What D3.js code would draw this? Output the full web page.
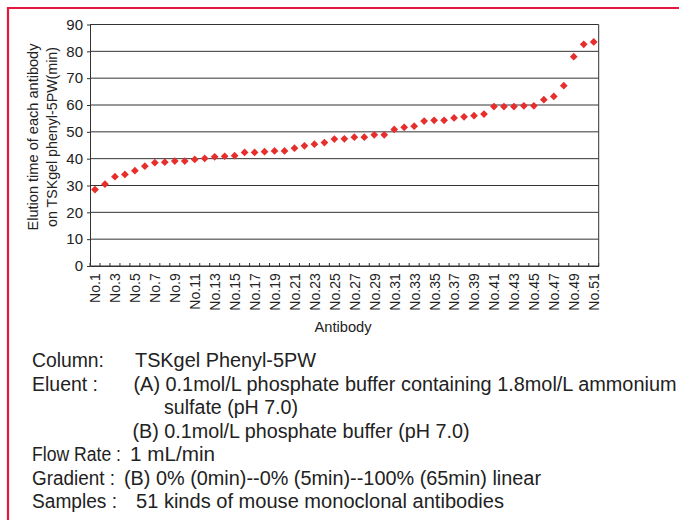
<!DOCTYPE html>
<html><head><meta charset="utf-8">
<script src="https://cdn.jsdelivr.net/npm/d3@7/dist/d3.min.js"></script>
<style>html,body{margin:0;padding:0;background:#fff;} svg{display:block;}</style>
</head><body>
<svg id="chart" width="679" height="520"></svg>
<script>
// ---- data ----
const antibodies = ["No.1","No.2","No.3","No.4","No.5","No.6","No.7","No.8","No.9","No.10",
  "No.11","No.12","No.13","No.14","No.15","No.16","No.17","No.18","No.19","No.20",
  "No.21","No.22","No.23","No.24","No.25","No.26","No.27","No.28","No.29","No.30",
  "No.31","No.32","No.33","No.34","No.35","No.36","No.37","No.38","No.39","No.40",
  "No.41","No.42","No.43","No.44","No.45","No.46","No.47","No.48","No.49","No.50","No.51"];
const elutionTime = [28.5,30.5,33.3,34.1,35.5,37.2,38.5,38.7,39.1,39.1,
  39.7,40.1,40.7,40.9,41.1,42.3,42.3,42.6,42.9,42.9,
  43.9,44.8,45.4,46.0,47.3,47.4,48.0,48.0,48.9,48.9,
  50.9,51.7,52.1,54.0,54.3,54.3,55.2,55.6,56.0,56.6,
  59.4,59.4,59.4,59.7,59.7,62.0,63.2,67.2,78.0,82.6,83.5];
const xTickLabels = ["No.1","No.3","No.5","No.7","No.9","No.11","No.13","No.15","No.17","No.19",
  "No.21","No.23","No.25","No.27","No.29","No.31","No.33","No.35","No.37","No.39",
  "No.41","No.43","No.45","No.47","No.49","No.51"];
const yTicks = [0,10,20,30,40,50,60,70,80,90];
const yTitleLines = ["Elution time of each antibody","on TSKgel phenyl-5PW(min)"];
const xTitle = "Antibody";
const noteLabels = ["Column:","Eluent :","","","Flow Rate :","Gradient :","Samples :"];
const noteTexts = ["TSKgel Phenyl-5PW",
  "(A) 0.1mol/L phosphate buffer containing 1.8mol/L ammonium",
  "sulfate (pH 7.0)",
  "(B) 0.1mol/L phosphate buffer (pH 7.0)",
  "1 mL/min",
  "(B) 0% (0min)--0% (5min)--100% (65min) linear",
  "51 kinds of mouse monoclonal antibodies"];

// ---- layout ----
const svg = d3.select("#chart");
const L = 90, R = 598.7, T = 24.5, B = 266;
const narrow = "'Liberation Sans Narrow','Arial Narrow','Liberation Sans',Arial,sans-serif";
const red = "#e4183c";

// outer red frame
svg.append("path").attr("d", `M8,520 L8,8 L679,8`).attr("fill","none")
  .attr("stroke", red).attr("stroke-width", 2.2);

const x = d3.scalePoint().domain(antibodies).range([L, R]).padding(0.5);
const xb = d3.scaleBand().domain(antibodies).range([L, R]);
const y = d3.scaleLinear().domain([0, 90]).range([B, T]);

// gridlines
svg.append("g").selectAll("line").data(yTicks).join("line")
  .attr("x1", L).attr("x2", R).attr("y1", d => y(d)).attr("y2", d => y(d))
  .attr("stroke", "#333").attr("stroke-width", 1);
// right border
svg.append("line").attr("x1", R).attr("x2", R).attr("y1", T).attr("y2", B)
  .attr("stroke", "#333").attr("stroke-width", 1);

// y axis
const ya = svg.append("g").attr("transform", `translate(${L},0)`)
  .call(d3.axisLeft(y).tickValues(yTicks).tickSize(3).tickSizeOuter(0).tickPadding(4));
ya.select(".domain").attr("stroke", "#333");
ya.selectAll(".tick line").attr("stroke", "#333");
ya.selectAll("text").attr("font-family", narrow).attr("font-size", 15).attr("fill", "#222");

// x axis
const xa = svg.append("g").attr("transform", `translate(0,${B})`)
  .call(d3.axisBottom(x).tickValues(xTickLabels).tickSize(0).tickSizeOuter(0));
xa.select(".domain").attr("stroke", "#333");
xa.selectAll("text")
  .attr("transform", "rotate(-90)")
  .attr("text-anchor", "end")
  .attr("x", -7.3).attr("y", 0).attr("dy", "0.35em")
  .attr("font-family", narrow).attr("font-size", 14).attr("fill", "#222");
// inward minor ticks at category boundaries
const bounds = antibodies.map(d => xb(d)).concat([xb.range()[1]]);
svg.append("g").selectAll("line").data(bounds).join("line")
  .attr("x1", d => d).attr("x2", d => d).attr("y1", B).attr("y2", B - 3)
  .attr("stroke", "#333").attr("stroke-width", 1);

// points
const diamond = d3.symbol().type(d3.symbolSquare).size(30);
svg.append("g").selectAll("path").data(elutionTime).join("path")
  .attr("d", diamond)
  .attr("transform", (d, i) => `translate(${x(antibodies[i])},${y(d)}) rotate(45)`)
  .attr("fill", "#e62e2d");

// y title
const yt = svg.append("text").attr("transform", "translate(0,137) rotate(-90)")
  .attr("text-anchor", "middle").attr("font-family", narrow).attr("font-size", 15).attr("fill", "#222");
yt.selectAll("tspan").data(yTitleLines).join("tspan")
  .attr("x", 0).attr("y", (d, i) => 38 + i * 18.5)
  .attr("textLength", (d, i) => [187, 180][i]).attr("lengthAdjust", "spacingAndGlyphs")
  .text(d => d);

// x title
svg.append("text").attr("x", 343).attr("y", 331.5).attr("text-anchor", "middle")
  .attr("font-family", narrow).attr("font-size", 15).attr("fill", "#222")
  .attr("textLength", 57).attr("lengthAdjust", "spacingAndGlyphs").text(xTitle);

// notes
const noteX = [135, 133.5, 164, 132.5, 130, 124, 136];
const labelW = [72, 66, 0, 0, 89, 83, 85];
const textW = [181, 543, 134, 337, 85, 417, 368];
const notes = svg.append("g").attr("font-family", narrow).attr("font-size", 20).attr("fill", "#222");
noteLabels.forEach((lab, i) => {
  const by = 367 + i * 23.5;
  if (lab) notes.append("text").attr("x", 32).attr("y", by)
    .attr("textLength", labelW[i]).attr("lengthAdjust", "spacingAndGlyphs").text(lab);
  notes.append("text").attr("x", noteX[i]).attr("y", by)
    .attr("textLength", textW[i]).attr("lengthAdjust", "spacingAndGlyphs").text(noteTexts[i]);
});
</script>
</body></html>
